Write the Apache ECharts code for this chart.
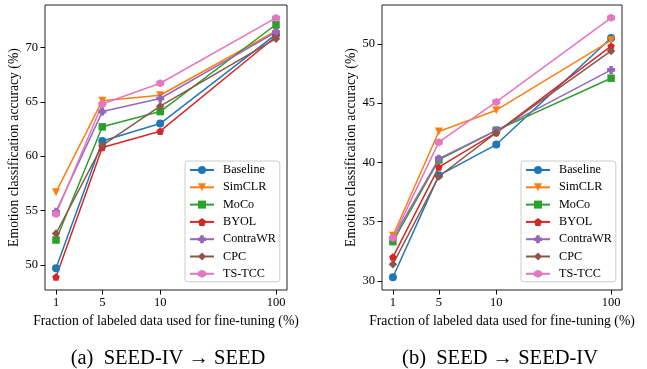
<!DOCTYPE html>
<html>
<head>
<meta charset="utf-8">
<script src="https://cdn.jsdelivr.net/npm/echarts@6/dist/echarts.min.js"></script>
<style>
  html, body { margin: 0; padding: 0; background: #fff; }
  #chart { width: 647px; height: 369px; }
</style>
</head>
<body>
<div id="chart"></div>
<script>
// fractions of labeled data; the 100% point sits at slot 20 on the original linear axis
const fractionLabels = ["1", "5", "10", "100"];
const fractionSlots = [1, 5, 10, 20];

const methods = ["Baseline", "SimCLR", "MoCo", "BYOL", "ContraWR", "CPC", "TS-TCC"];

// (a) SEED-IV -> SEED
const seedivToSeed = {
  Baseline: [49.7, 61.4, 63.0, 71.2],
  SimCLR: [56.7, 65.1, 65.6, 71.5],
  MoCo: [52.3, 62.7, 64.1, 72.1],
  BYOL: [48.9, 60.8, 62.3, 71.0],
  ContraWR: [54.9, 64.1, 65.3, 71.4],
  CPC: [52.9, 61.0, 64.6, 70.8],
  "TS-TCC": [54.7, 64.8, 66.7, 72.7]
};

// (b) SEED -> SEED-IV
const seedToSeediv = {
  Baseline: [30.3, 38.9, 41.5, 50.5],
  SimCLR: [33.8, 42.6, 44.4, 50.3],
  MoCo: [33.3, 40.2, 42.7, 47.1],
  BYOL: [32.0, 39.6, 42.5, 49.8],
  ContraWR: [33.6, 40.3, 42.7, 47.8],
  CPC: [31.4, 38.8, 42.5, 49.4],
  "TS-TCC": [33.6, 41.7, 45.1, 52.2]
};

const yTicksA = [50, 55, 60, 65, 70];
const yTicksB = [30, 35, 40, 45, 50];

const colors = ["#1f77b4", "#ff7f0e", "#2ca02c", "#d62728", "#9467bd", "#8c564b", "#e377c2"];
const symbols = [
  { symbol: "circle", size: 8, rotate: 0 },
  { symbol: "triangle", size: 8, rotate: 180 },
  { symbol: "rect", size: 7.5, rotate: 0 },
  { symbol: "path://M0,-1 L0.951,-0.309 L0.588,0.809 L-0.588,0.809 L-0.951,-0.309 Z", size: 7.5, rotate: 0 },
  { symbol: "path://M-0.45,-1 L0.45,-1 L0.45,-0.45 L1,-0.45 L1,0.45 L0.45,0.45 L0.45,1 L-0.45,1 L-0.45,0.45 L-1,0.45 L-1,-0.45 L-0.45,-0.45 Z", size: 8, rotate: 0 },
  { symbol: "diamond", size: 8.5, rotate: 0 },
  { symbol: "path://M0,-1 L0.866,-0.5 L0.866,0.5 L0,1 L-0.866,0.5 L-0.866,-0.5 Z", size: 8, rotate: 0 }
];

const FONT = "'Liberation Serif', 'DejaVu Serif', serif";

function makeXAxis(gridIndex) {
  return {
    type: "value",
    gridIndex,
    min: 0.05,
    max: 20.95,
    name: "Fraction of labeled data used for fine-tuning (%)",
    nameLocation: "middle",
    nameGap: 21,
    nameTextStyle: { fontFamily: FONT, fontSize: 13.7, color: "#000" },
    axisLine: { show: false },
    splitLine: { show: false },
    axisTick: { show: true, length: 4.5, customValues: fractionSlots, lineStyle: { color: "#000" } },
    axisLabel: {
      customValues: fractionSlots,
      formatter: (v) => fractionLabels[fractionSlots.indexOf(v)],
      fontFamily: FONT, fontSize: 12.5, color: "#000", margin: 6
    }
  };
}

function makeYAxis(gridIndex, min, max, ticks) {
  return {
    type: "value",
    gridIndex,
    min,
    max,
    name: "Emotion classification accuracy (%)",
    nameLocation: "middle",
    nameGap: 20,
    nameTextStyle: { fontFamily: FONT, fontSize: 13.7, color: "#000" },
    axisLine: { show: false },
    splitLine: { show: false },
    axisTick: { show: true, length: 4.5, customValues: ticks, lineStyle: { color: "#000" } },
    axisLabel: { customValues: ticks, fontFamily: FONT, fontSize: 12.5, color: "#000", margin: 7 }
  };
}

function makeSeries(table, idx) {
  return methods.map((m, i) => ({
    name: m,
    type: "line",
    xAxisIndex: idx,
    yAxisIndex: idx,
    data: table[m].map((v, k) => [fractionSlots[k], v]),
    color: colors[i],
    symbol: symbols[i].symbol,
    symbolSize: symbols[i].size,
    symbolRotate: symbols[i].rotate,
    showAllSymbol: true,
    lineStyle: { width: 1.5 },
    itemStyle: { color: colors[i] },
    emphasis: { disabled: true },
    animation: false
  }));
}

function makeLegend(left) {
  return {
    data: methods,
    orient: "vertical",
    left,
    top: 161,
    itemWidth: 24,
    itemHeight: 10,
    itemGap: 5.3,
    padding: [3, 4, 2, 4],
    borderColor: "#ccc",
    borderWidth: 1,
    borderRadius: 3,
    backgroundColor: "rgba(255,255,255,0.8)",
    textStyle: { fontFamily: FONT, fontSize: 12.2, color: "#000", padding: [0, 0, 0, 4] }
  };
}

const chart = echarts.init(document.getElementById("chart"));
chart.setOption({
  backgroundColor: "#fff",
  animation: false,
  title: [
    { text: "(a)  SEED-IV \u2192 SEED", left: 163, top: 343, textAlign: "center",
      textStyle: { fontFamily: FONT, fontSize: 20.5, fontWeight: "normal", color: "#000" } },
    { text: "(b)  SEED \u2192 SEED-IV", left: 495, top: 343, textAlign: "center",
      textStyle: { fontFamily: FONT, fontSize: 20.5, fontWeight: "normal", color: "#000" } }
  ],
  grid: [
    { left: 45, top: 5, width: 242, height: 285, show: true, borderColor: "#222", borderWidth: 1, backgroundColor: "transparent" },
    { left: 382, top: 5, width: 240, height: 285, show: true, borderColor: "#222", borderWidth: 1, backgroundColor: "transparent" }
  ],
  legend: [makeLegend(185), makeLegend(521)],
  xAxis: [makeXAxis(0), makeXAxis(1)],
  yAxis: [makeYAxis(0, 47.71, 73.89, yTicksA), makeYAxis(1, 29.22, 53.28, yTicksB)],
  series: [...makeSeries(seedivToSeed, 0), ...makeSeries(seedToSeediv, 1)]
});
</script>
</body>
</html>
